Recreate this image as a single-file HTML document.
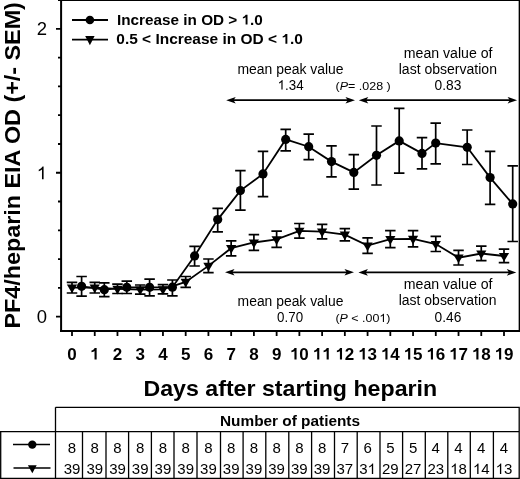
<!DOCTYPE html>
<html><head><meta charset="utf-8"><style>
html,body{margin:0;padding:0;background:#fff;}
body{width:520px;height:479px;overflow:hidden;}
svg{display:block;will-change:transform;}
text{font-family:"Liberation Sans",sans-serif;fill:#000;}
.b{font-weight:bold;}
</style></head><body>
<svg width="520" height="479" viewBox="0 0 520 479">
<rect width="520" height="479" fill="#fff"/>

<path d="M58,0.35H520" fill="none" stroke="#000" stroke-width="1.5"/>
<path d="M519.35,0V331" fill="none" stroke="#000" stroke-width="1.4"/>
<path d="M61.1,0V332M60,331H520" fill="none" stroke="#000" stroke-width="2"/>
<path d="M56,316.60H61M58,287.83H61M58,259.06H61M58,230.29H61M58,201.52H61M56,172.75H61M58,143.98H61M58,115.21H61M58,86.44H61M58,57.67H61M56,28.90H61" stroke="#000" stroke-width="1.8" fill="none"/>
<path d="M72.00,331V336M94.74,331V336M117.47,331V336M140.21,331V336M162.95,331V336M185.69,331V336M208.42,331V336M231.16,331V336M253.90,331V336M276.63,331V336M299.37,331V336M322.11,331V336M344.84,331V336M367.58,331V336M390.32,331V336M413.05,331V336M435.79,331V336M458.53,331V336M481.27,331V336M504.00,331V336" stroke="#000" stroke-width="1.8" fill="none"/>
<text x="47" y="322.7" font-size="18.5" text-anchor="end">0</text>
<text x="47" y="35.0" font-size="18.5" text-anchor="end">2</text>
<text x="36.71" y="179.3" font-size="18.5"> </text><path d="M43.60,179.30H41.98V169.38Q41.39,169.92 40.44,170.46Q39.48,170.99 38.73,171.26V169.76Q40.09,169.15 41.11,168.27Q42.13,167.40 42.56,166.57H43.60Z" fill="#000"/>
<text x="67.27" y="359.6" font-size="17" font-weight="bold">0</text>
<text x="90.01" y="359.6" font-size="17" font-weight="bold"> </text><path d="M96.65,359.60H94.53V351.05C93.91,351.67 92.75,352.09 91.50,352.30V350.55C92.75,350.22 93.91,349.47 94.66,347.90H96.65Z" fill="#000"/>
<text x="112.75" y="359.6" font-size="17" font-weight="bold">2</text>
<text x="135.48" y="359.6" font-size="17" font-weight="bold">3</text>
<text x="158.22" y="359.6" font-size="17" font-weight="bold">4</text>
<text x="180.96" y="359.6" font-size="17" font-weight="bold">5</text>
<text x="203.69" y="359.6" font-size="17" font-weight="bold">6</text>
<text x="226.43" y="359.6" font-size="17" font-weight="bold">7</text>
<text x="249.17" y="359.6" font-size="17" font-weight="bold">8</text>
<text x="271.91" y="359.6" font-size="17" font-weight="bold">9</text>
<text x="289.92" y="359.6" font-size="17" font-weight="bold"> 0</text><path d="M296.56,359.60H294.44V351.05C293.82,351.67 292.65,352.09 291.41,352.30V350.55C292.65,350.22 293.82,349.47 294.56,347.90H296.56Z" fill="#000"/>
<text x="312.65" y="359.6" font-size="17" font-weight="bold">  </text><path d="M319.29,359.60H317.18V351.05C316.55,351.67 315.39,352.09 314.15,352.30V350.55C315.39,350.22 316.55,349.47 317.30,347.90H319.29ZM328.75,359.60H326.63V351.05C326.01,351.67 324.85,352.09 323.60,352.30V350.55C324.85,350.22 326.01,349.47 326.76,347.90H328.75Z" fill="#000"/>
<text x="335.39" y="359.6" font-size="17" font-weight="bold"> 2</text><path d="M342.03,359.60H339.91V351.05C339.29,351.67 338.13,352.09 336.88,352.30V350.55C338.13,350.22 339.29,349.47 340.04,347.90H342.03Z" fill="#000"/>
<text x="358.13" y="359.6" font-size="17" font-weight="bold"> 3</text><path d="M364.77,359.60H362.65V351.05C362.03,351.67 360.87,352.09 359.62,352.30V350.55C360.87,350.22 362.03,349.47 362.77,347.90H364.77Z" fill="#000"/>
<text x="380.86" y="359.6" font-size="17" font-weight="bold"> 4</text><path d="M387.50,359.60H385.39V351.05C384.76,351.67 383.60,352.09 382.36,352.30V350.55C383.60,350.22 384.76,349.47 385.51,347.90H387.50Z" fill="#000"/>
<text x="403.60" y="359.6" font-size="17" font-weight="bold"> 5</text><path d="M410.24,359.60H408.12V351.05C407.50,351.67 406.34,352.09 405.09,352.30V350.55C406.34,350.22 407.50,349.47 408.25,347.90H410.24Z" fill="#000"/>
<text x="426.34" y="359.6" font-size="17" font-weight="bold"> 6</text><path d="M432.98,359.60H430.86V351.05C430.24,351.67 429.08,352.09 427.83,352.30V350.55C429.08,350.22 430.24,349.47 430.99,347.90H432.98Z" fill="#000"/>
<text x="449.07" y="359.6" font-size="17" font-weight="bold"> 7</text><path d="M455.72,359.60H453.60V351.05C452.98,351.67 451.81,352.09 450.57,352.30V350.55C451.81,350.22 452.98,349.47 453.72,347.90H455.72Z" fill="#000"/>
<text x="471.81" y="359.6" font-size="17" font-weight="bold"> 8</text><path d="M478.45,359.60H476.34V351.05C475.71,351.67 474.55,352.09 473.31,352.30V350.55C474.55,350.22 475.71,349.47 476.46,347.90H478.45Z" fill="#000"/>
<text x="494.55" y="359.6" font-size="17" font-weight="bold"> 9</text><path d="M501.19,359.60H499.07V351.05C498.45,351.67 497.29,352.09 496.04,352.30V350.55C497.29,350.22 498.45,349.47 499.20,347.90H501.19Z" fill="#000"/>
<text class="b" transform="translate(20.2,328.6) rotate(-90)" x="0" y="0" font-size="22.6" textLength="326.5" lengthAdjust="spacingAndGlyphs">PF4/heparin EIA OD (+/- SEM)</text>
<text class="b" x="143.4" y="395.8" font-size="22" textLength="293.8" lengthAdjust="spacingAndGlyphs">Days after starting heparin</text>
<path d="M72,20H108M72,39.6H108" stroke="#000" stroke-width="1.8" fill="none"/>
<circle cx="89.9" cy="20" r="4.3"/>
<path d="M85.20,36.00L94.60,36.00L89.90,45.20Z"/>
<text x="117.00" y="24.6" font-size="14.4" font-weight="bold" textLength="145.80" lengthAdjust="spacingAndGlyphs">Increase in OD &gt;  .0</text><path d="M247.51,24.60H245.61V17.36C245.05,17.89 244.00,18.24 242.88,18.41V16.94C244.00,16.65 245.05,16.02 245.72,14.69H247.51Z" fill="#000"/>
<text x="116.30" y="43.8" font-size="14.4" font-weight="bold" textLength="186.50" lengthAdjust="spacingAndGlyphs">0.5 &lt; Increase in OD &lt;  .0</text><path d="M287.35,43.80H285.42V36.56C284.86,37.09 283.80,37.44 282.67,37.61V36.14C283.80,35.85 284.86,35.22 285.53,33.89H287.35Z" fill="#000"/>
<path d="M81.60,286.30L104.30,289.70L126.80,287.30L149.60,287.30L172.40,287.20L194.60,255.90L217.70,219.60L240.40,190.60L263.00,173.90L285.70,139.40L308.70,146.70L331.50,161.60L353.80,172.40L376.50,155.30L399.20,140.90L422.00,153.40L435.70,143.10L467.20,147.30L490.10,177.60L512.70,203.90" stroke="#000" stroke-width="1.8" fill="none"/>
<path d="M72.00,287.60L94.74,287.60L117.47,288.80L140.21,289.60L162.95,289.30L185.69,281.90L208.42,265.90L231.16,248.20L253.90,242.50L276.63,239.30L299.37,230.80L322.11,231.60L344.84,234.70L367.58,245.60L390.32,239.20L413.05,238.80L435.79,244.00L458.53,257.70L481.27,253.50L504.00,256.00" stroke="#000" stroke-width="1.8" fill="none"/>
<g stroke="#000" stroke-width="1.7" fill="none"><path d="M81.60,276.50V296.10M76.35,276.50H86.85M76.35,296.10H86.85"/><path d="M104.30,282.90V296.70M99.05,282.90H109.55M99.05,296.70H109.55"/><path d="M126.80,281.20V293.50M121.55,281.20H132.05M121.55,293.50H132.05"/><path d="M149.60,279.20V295.80M144.35,279.20H154.85M144.35,295.80H154.85"/><path d="M172.40,280.00V295.80M167.15,280.00H177.65M167.15,295.80H177.65"/><path d="M194.60,246.40V266.00M189.35,246.40H199.85M189.35,266.00H199.85"/><path d="M217.70,208.30V231.90M212.45,208.30H222.95M212.45,231.90H222.95"/><path d="M240.40,170.70V210.20M235.15,170.70H245.65M235.15,210.20H245.65"/><path d="M263.00,151.30V196.60M257.75,151.30H268.25M257.75,196.60H268.25"/><path d="M285.70,129.40V150.90M280.45,129.40H290.95M280.45,150.90H290.95"/><path d="M308.70,134.20V159.70M303.45,134.20H313.95M303.45,159.70H313.95"/><path d="M331.50,145.90V176.80M326.25,145.90H336.75M326.25,176.80H336.75"/><path d="M353.80,154.70V189.20M348.55,154.70H359.05M348.55,189.20H359.05"/><path d="M376.50,126.00V185.00M371.25,126.00H381.75M371.25,185.00H381.75"/><path d="M399.20,108.40V173.20M393.95,108.40H404.45M393.95,173.20H404.45"/><path d="M422.00,137.70V168.80M416.75,137.70H427.25M416.75,168.80H427.25"/><path d="M435.70,123.10V163.80M430.45,123.10H440.95M430.45,163.80H440.95"/><path d="M467.20,130.00V164.50M461.95,130.00H472.45M461.95,164.50H472.45"/><path d="M490.10,151.30V204.40M484.85,151.30H495.35M484.85,204.40H495.35"/><path d="M512.70,165.80V241.50M507.45,165.80H517.95M507.45,241.50H517.95"/><path d="M72.00,282.30V293.00M66.75,282.30H77.25M66.75,293.00H77.25"/><path d="M94.74,282.30V293.00M89.49,282.30H99.99M89.49,293.00H99.99"/><path d="M117.47,284.20V293.50M112.22,284.20H122.72M112.22,293.50H122.72"/><path d="M140.21,285.00V294.20M134.96,285.00H145.46M134.96,294.20H145.46"/><path d="M162.95,284.70V293.90M157.70,284.70H168.20M157.70,293.90H168.20"/><path d="M185.69,276.50V287.30M180.44,276.50H190.94M180.44,287.30H190.94"/><path d="M208.42,259.00V272.70M203.17,259.00H213.67M203.17,272.70H213.67"/><path d="M231.16,240.90V255.80M225.91,240.90H236.41M225.91,255.80H236.41"/><path d="M253.90,234.70V250.40M248.65,234.70H259.15M248.65,250.40H259.15"/><path d="M276.63,231.20V247.30M271.38,231.20H281.88M271.38,247.30H281.88"/><path d="M299.37,223.50V238.10M294.12,223.50H304.62M294.12,238.10H304.62"/><path d="M322.11,224.40V238.80M316.86,224.40H327.36M316.86,238.80H327.36"/><path d="M344.84,228.70V240.80M339.59,228.70H350.09M339.59,240.80H350.09"/><path d="M367.58,237.80V253.40M362.33,237.80H372.83M362.33,253.40H372.83"/><path d="M390.32,230.70V247.70M385.07,230.70H395.57M385.07,247.70H395.57"/><path d="M413.05,230.70V246.80M407.80,230.70H418.30M407.80,246.80H418.30"/><path d="M435.79,236.40V251.50M430.54,236.40H441.04M430.54,251.50H441.04"/><path d="M458.53,250.30V265.00M453.28,250.30H463.78M453.28,265.00H463.78"/><path d="M481.27,246.20V260.70M476.02,246.20H486.52M476.02,260.70H486.52"/><path d="M504.00,249.20V262.70M498.75,249.20H509.25M498.75,262.70H509.25"/></g>
<g fill="#000"><circle cx="81.60" cy="286.30" r="4.6"/><circle cx="104.30" cy="289.70" r="4.6"/><circle cx="126.80" cy="287.30" r="4.6"/><circle cx="149.60" cy="287.30" r="4.6"/><circle cx="172.40" cy="287.20" r="4.6"/><circle cx="194.60" cy="255.90" r="4.6"/><circle cx="217.70" cy="219.60" r="4.6"/><circle cx="240.40" cy="190.60" r="4.6"/><circle cx="263.00" cy="173.90" r="4.6"/><circle cx="285.70" cy="139.40" r="4.6"/><circle cx="308.70" cy="146.70" r="4.6"/><circle cx="331.50" cy="161.60" r="4.6"/><circle cx="353.80" cy="172.40" r="4.6"/><circle cx="376.50" cy="155.30" r="4.6"/><circle cx="399.20" cy="140.90" r="4.6"/><circle cx="422.00" cy="153.40" r="4.6"/><circle cx="435.70" cy="143.10" r="4.6"/><circle cx="467.20" cy="147.30" r="4.6"/><circle cx="490.10" cy="177.60" r="4.6"/><circle cx="512.70" cy="203.90" r="4.6"/><path d="M66.90,284.50L77.10,284.50L72.00,293.20Z"/><path d="M89.64,284.50L99.84,284.50L94.74,293.20Z"/><path d="M112.37,285.70L122.57,285.70L117.47,294.40Z"/><path d="M135.11,286.50L145.31,286.50L140.21,295.20Z"/><path d="M157.85,286.20L168.05,286.20L162.95,294.90Z"/><path d="M180.59,278.80L190.78,278.80L185.69,287.50Z"/><path d="M203.32,262.80L213.52,262.80L208.42,271.50Z"/><path d="M226.06,245.10L236.26,245.10L231.16,253.80Z"/><path d="M248.80,239.40L259.00,239.40L253.90,248.10Z"/><path d="M271.53,236.20L281.73,236.20L276.63,244.90Z"/><path d="M294.27,227.70L304.47,227.70L299.37,236.40Z"/><path d="M317.01,228.50L327.21,228.50L322.11,237.20Z"/><path d="M339.74,231.60L349.94,231.60L344.84,240.30Z"/><path d="M362.48,242.50L372.68,242.50L367.58,251.20Z"/><path d="M385.22,236.10L395.42,236.10L390.32,244.80Z"/><path d="M407.95,235.70L418.15,235.70L413.05,244.40Z"/><path d="M430.69,240.90L440.89,240.90L435.79,249.60Z"/><path d="M453.43,254.60L463.63,254.60L458.53,263.30Z"/><path d="M476.17,250.40L486.37,250.40L481.27,259.10Z"/><path d="M498.90,252.90L509.10,252.90L504.00,261.60Z"/></g>
<g fill="#000">
<path d="M231.20,100.20H350.00" stroke="#000" stroke-width="1.8" fill="none"/><path d="M226.20,100.20L235.70,96.90L233.50,100.20L235.70,103.50Z"/><path d="M355.00,100.20L345.50,96.90L347.70,100.20L345.50,103.50Z"/>
<path d="M363.80,100.20H512.10" stroke="#000" stroke-width="1.8" fill="none"/><path d="M358.80,100.20L368.30,96.90L366.10,100.20L368.30,103.50Z"/><path d="M517.10,100.20L507.60,96.90L509.80,100.20L507.60,103.50Z"/>
<path d="M230.00,272.30H349.00" stroke="#000" stroke-width="1.8" fill="none"/><path d="M225.00,272.30L234.50,269.00L232.30,272.30L234.50,275.60Z"/><path d="M354.00,272.30L344.50,269.00L346.70,272.30L344.50,275.60Z"/>
<path d="M363.40,272.40H511.30" stroke="#000" stroke-width="1.8" fill="none"/><path d="M358.40,272.40L367.90,269.10L365.70,272.40L367.90,275.70Z"/><path d="M516.30,272.40L506.80,269.10L509.00,272.40L506.80,275.70Z"/>
</g>
<text x="237.4" y="73.8" font-size="14" textLength="106.2" lengthAdjust="spacingAndGlyphs">mean peak value</text>
<text x="277.60" y="89.6" font-size="14" textLength="26.00" lengthAdjust="spacingAndGlyphs"> .34</text><path d="M282.58,89.60H281.40V82.09Q280.98,82.50 280.29,82.91Q279.60,83.31 279.05,83.52V82.38Q280.04,81.92 280.78,81.25Q281.51,80.60 281.82,79.97H282.58Z" fill="#000"/>
<text x="335.60" y="90.1" font-size="11.8" textLength="55.20" lengthAdjust="spacingAndGlyphs">(<tspan font-style="italic">P</tspan>= .028 )</text>
<text x="403.75" y="58" font-size="14" textLength="88.8" lengthAdjust="spacingAndGlyphs">mean value of</text>
<text x="398.75" y="73.75" font-size="14" textLength="98.2" lengthAdjust="spacingAndGlyphs">last observation</text>
<text x="434.5" y="90" font-size="14" textLength="26.8" lengthAdjust="spacingAndGlyphs">0.83</text>
<text x="237.6" y="305.8" font-size="14" textLength="105.8" lengthAdjust="spacingAndGlyphs">mean peak value</text>
<text x="277.1" y="321.5" font-size="14" textLength="26.0" lengthAdjust="spacingAndGlyphs">0.70</text>
<text x="335.40" y="321.9" font-size="11.8" textLength="55.00" lengthAdjust="spacingAndGlyphs">(<tspan font-style="italic">P</tspan> &lt; .00 )</text><path d="M383.97,321.90H382.88V315.57Q382.48,315.92 381.84,316.26Q381.20,316.60 380.69,316.77V315.82Q381.61,315.42 382.29,314.86Q382.98,314.31 383.27,313.78H383.97Z" fill="#000"/>
<text x="403.75" y="289" font-size="14" textLength="88.8" lengthAdjust="spacingAndGlyphs">mean value of</text>
<text x="398.75" y="304.5" font-size="14" textLength="97.8" lengthAdjust="spacingAndGlyphs">last observation</text>
<text x="434.5" y="321.5" font-size="14" textLength="26.8" lengthAdjust="spacingAndGlyphs">0.46</text>
<path d="M55.5,407.3H519.2V479M55.5,407.3V479M0,431.7H519.2M0.7,431.7V479M0,478.4H519.2M82.5,431.7V479M106.0,431.7V479M128.6,431.7V479M151.4,431.7V479M174.0,431.7V479M197.0,431.7V479M220.5,431.7V479M243.1,431.7V479M265.8,431.7V479M288.8,431.7V479M311.6,431.7V479M334.5,431.7V479M357.2,431.7V479M380.0,431.7V479M402.6,431.7V479M425.3,431.7V479M447.8,431.7V479M470.3,431.7V479M493.4,431.7V479" stroke="#000" stroke-width="1.3" fill="none"/>
<text class="b" x="220" y="425.8" font-size="14" textLength="140" lengthAdjust="spacingAndGlyphs">Number of patients</text>
<text x="72.00" y="452.6" font-size="15" text-anchor="middle">8</text>
<text x="63.66" y="473.9" font-size="15">39</text>
<text x="94.74" y="452.6" font-size="15" text-anchor="middle">8</text>
<text x="86.39" y="473.9" font-size="15">39</text>
<text x="117.47" y="452.6" font-size="15" text-anchor="middle">8</text>
<text x="109.13" y="473.9" font-size="15">39</text>
<text x="140.21" y="452.6" font-size="15" text-anchor="middle">8</text>
<text x="131.87" y="473.9" font-size="15">39</text>
<text x="162.95" y="452.6" font-size="15" text-anchor="middle">8</text>
<text x="154.61" y="473.9" font-size="15">39</text>
<text x="185.69" y="452.6" font-size="15" text-anchor="middle">8</text>
<text x="177.34" y="473.9" font-size="15">39</text>
<text x="208.42" y="452.6" font-size="15" text-anchor="middle">8</text>
<text x="200.08" y="473.9" font-size="15">39</text>
<text x="231.16" y="452.6" font-size="15" text-anchor="middle">8</text>
<text x="222.82" y="473.9" font-size="15">39</text>
<text x="253.90" y="452.6" font-size="15" text-anchor="middle">8</text>
<text x="245.55" y="473.9" font-size="15">39</text>
<text x="276.63" y="452.6" font-size="15" text-anchor="middle">8</text>
<text x="268.29" y="473.9" font-size="15">39</text>
<text x="299.37" y="452.6" font-size="15" text-anchor="middle">8</text>
<text x="291.03" y="473.9" font-size="15">39</text>
<text x="322.11" y="452.6" font-size="15" text-anchor="middle">8</text>
<text x="313.76" y="473.9" font-size="15">39</text>
<text x="344.84" y="452.6" font-size="15" text-anchor="middle">7</text>
<text x="336.50" y="473.9" font-size="15">37</text>
<text x="367.58" y="452.6" font-size="15" text-anchor="middle">6</text>
<text x="359.24" y="473.9" font-size="15">3 </text><path d="M373.17,473.90H371.85V465.86Q371.37,466.30 370.60,466.73Q369.83,467.16 369.21,467.38V466.17Q370.32,465.67 371.15,464.96Q371.98,464.25 372.32,463.58H373.17Z" fill="#000"/>
<text x="390.32" y="452.6" font-size="15" text-anchor="middle">5</text>
<text x="381.98" y="473.9" font-size="15">29</text>
<text x="413.05" y="452.6" font-size="15" text-anchor="middle">5</text>
<text x="404.71" y="473.9" font-size="15">27</text>
<text x="435.79" y="452.6" font-size="15" text-anchor="middle">4</text>
<text x="427.45" y="473.9" font-size="15">23</text>
<text x="458.53" y="452.6" font-size="15" text-anchor="middle">4</text>
<text x="450.19" y="473.9" font-size="15"> 8</text><path d="M455.78,473.90H454.46V465.86Q453.98,466.30 453.21,466.73Q452.44,467.16 451.82,467.38V466.17Q452.93,465.67 453.75,464.96Q454.58,464.25 454.93,463.58H455.78Z" fill="#000"/>
<text x="481.27" y="452.6" font-size="15" text-anchor="middle">4</text>
<text x="472.92" y="473.9" font-size="15"> 4</text><path d="M478.51,473.90H477.19V465.86Q476.72,466.30 475.94,466.73Q475.17,467.16 474.56,467.38V466.17Q475.66,465.67 476.49,464.96Q477.32,464.25 477.66,463.58H478.51Z" fill="#000"/>
<text x="504.00" y="452.6" font-size="15" text-anchor="middle">4</text>
<text x="495.66" y="473.9" font-size="15"> 3</text><path d="M501.25,473.90H499.93V465.86Q499.45,466.30 498.68,466.73Q497.91,467.16 497.29,467.38V466.17Q498.40,465.67 499.23,464.96Q500.06,464.25 500.40,463.58H501.25Z" fill="#000"/>
<path d="M13,444.6H50M13.5,468H50.5" stroke="#000" stroke-width="1.5" fill="none"/>
<circle cx="32.3" cy="444.6" r="4.2"/>
<path d="M27.90,465.20L36.70,465.20L32.30,473.20Z"/>
</svg>
</body></html>
